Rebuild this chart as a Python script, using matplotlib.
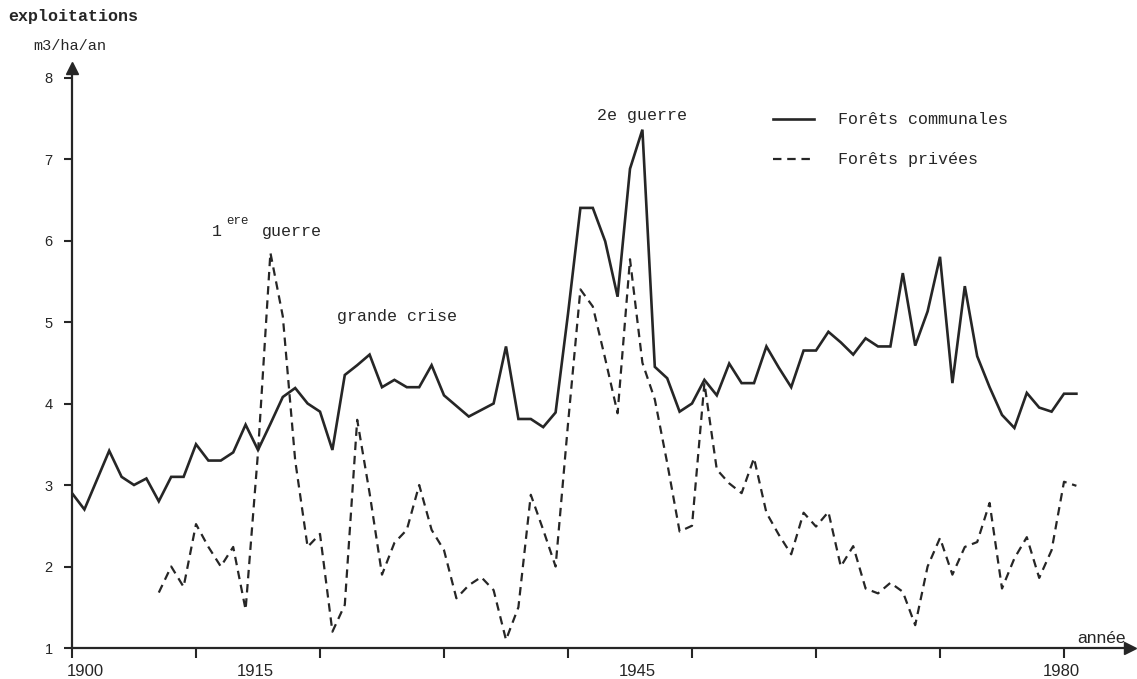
import matplotlib
matplotlib.use("Agg")
import matplotlib.pyplot as plt

# --- data (m3/ha/an) ---
years_comm = list(range(1900, 1982))
communales = [
    2.9, 2.7, 3.06, 3.42, 3.1, 3.0, 3.08, 2.8, 3.1, 3.1,      # 1900-1909
    3.5, 3.3, 3.3, 3.4, 3.74, 3.43, 3.75, 4.08, 4.19, 4.0,    # 1910-1919
    3.9, 3.43, 4.35, 4.47, 4.6, 4.2, 4.29, 4.2, 4.2, 4.47,    # 1920-1929
    4.1, 3.97, 3.84, 3.92, 4.0, 4.7, 3.81, 3.81, 3.71, 3.89,  # 1930-1939
    5.1, 6.4, 6.4, 5.99, 5.31, 6.88, 7.36, 4.45, 4.31, 3.9,   # 1940-1949
    4.0, 4.29, 4.1, 4.49, 4.25, 4.25, 4.7, 4.44, 4.2, 4.65,   # 1950-1959
    4.65, 4.88, 4.75, 4.6, 4.8, 4.7, 4.7, 5.6, 4.71, 5.13,    # 1960-1969
    5.8, 4.25, 5.44, 4.58, 4.2, 3.86, 3.7, 4.13, 3.95, 3.9,   # 1970-1979
    4.12, 4.12,                                               # 1980-1981
]

years_priv = list(range(1907, 1982))
privees = [
    1.68, 2.0, 1.75,                                          # 1907-1909
    2.52, 2.24, 2.0, 2.24, 1.47, 3.4, 5.85, 5.07, 3.3, 2.24,  # 1910-1919
    2.4, 1.2, 1.53, 3.8, 2.9, 1.9, 2.29, 2.45, 3.0, 2.45,     # 1920-1929
    2.2, 1.61, 1.77, 1.87, 1.71, 1.1, 1.5, 2.88, 2.45, 2.0,   # 1930-1939
    3.75, 5.4, 5.19, 4.55, 3.88, 5.77, 4.5, 4.05, 3.27, 2.43, # 1940-1949
    2.5, 4.25, 3.19, 3.02, 2.9, 3.33, 2.66, 2.39, 2.15, 2.66, # 1950-1959
    2.49, 2.67, 2.0, 2.25, 1.73, 1.67, 1.8, 1.69, 1.28, 2.0,  # 1960-1969
    2.35, 1.9, 2.24, 2.3, 2.78, 1.73, 2.1, 2.36, 1.86, 2.2,   # 1970-1979
    3.04, 2.99,                                               # 1980-1981
]

year_labels = [1900, 1915, 1945, 1980]
y_ticks = [1, 2, 3, 4, 5, 6, 7, 8]

W, H = 1137, 679
ink = "#262626"
mono = "Liberation Mono"
sans = "Liberation Sans"

fig = plt.figure(figsize=(W / 100, H / 100), dpi=100)
fig.patch.set_facecolor("white")

# axes placed in pixels: x from 72 to 1130, y from 648 (bottom) to 68 (top)
px_per_year = 12.4
px_per_unit = 81.5
left, right, bottom, top = 72, 1130, 648, 68
ax = fig.add_axes([left / W, (H - bottom) / H, (right - left) / W, (bottom - top) / H])
ax.set_xlim(1900, 1900 + (right - left) / px_per_year)
ax.set_ylim(1, 1 + (bottom - top) / px_per_unit)

ax.plot(years_comm, communales, color=ink, lw=1.9, solid_joinstyle="miter")
ax.plot(years_priv, privees, color=ink, lw=1.6, linestyle=(0, (3.8, 2.6)))

# axes styling: only left/bottom with arrow heads
for s in ["top", "right"]:
    ax.spines[s].set_visible(False)
for s in ["left", "bottom"]:
    ax.spines[s].set_linewidth(1.6)
    ax.spines[s].set_color(ink)
ax.plot(0, 1, marker="^", color=ink, markersize=8, transform=ax.transAxes, clip_on=False)
ax.plot(1, 0, marker=">", color=ink, markersize=8, transform=ax.transAxes, clip_on=False)

ax.set_xticks(range(1900, 1990, 10))
ax.set_xticklabels([])
ax.tick_params(axis="x", direction="out", length=7, width=1.5, color=ink)
ax.set_yticks(y_ticks)
ax.set_yticklabels([str(v) for v in y_ticks], fontsize=10.5, color=ink, family=sans)
ax.tick_params(axis="y", direction="out", length=6, width=1.5, color=ink, pad=8)

# year labels sit a little off the ticks in the original
label_shift = {1900: 1.05, 1915: -0.2, 1945: 0.6, 1980: -0.2}
for yr in year_labels:
    ax.text(yr + label_shift[yr], 1 - 28 / px_per_unit, str(yr),
            ha="center", va="baseline", fontsize=12, color=ink, family=sans)

ax.text(1985.0, 1.06, "année", ha="right", va="baseline", fontsize=12.5,
        color=ink, family=sans)

# annotations (typewriter style)
ax.text(1911.3, 6.06, "1", family=mono, fontsize=12, color=ink, va="baseline")
ax.text(1912.4, 6.2, "ere", family=mono, fontsize=9, color=ink, va="baseline")
ax.text(1915.3, 6.06, "guerre", family=mono, fontsize=12, color=ink, va="baseline")
ax.text(1921.4, 5.01, "grande crise", family=mono, fontsize=12, color=ink, va="baseline")
ax.text(1942.3, 7.48, "2e guerre", family=mono, fontsize=12, color=ink, va="baseline")

# hand-drawn legend
ax.plot([1956.5, 1959.8], [7.49, 7.49], color=ink, lw=1.9)
ax.plot([1956.5, 1959.8], [7.0, 7.0], color=ink, lw=1.6, linestyle=(0, (3.8, 2.6)))
ax.text(1961.8, 7.49, "Forêts communales", family=mono, fontsize=12, color=ink, va="center")
ax.text(1961.8, 7.0, "Forêts privées", family=mono, fontsize=12, color=ink, va="center")

fig.text(8 / W, 1 - 21 / H, "exploitations", family=mono, fontsize=12,
         color=ink, va="baseline", weight="bold")
fig.text(33 / W, 1 - 50 / H, "m3/ha/an", family=mono, fontsize=11,
         color=ink, va="baseline")

fig.savefig("out.png", dpi=100, facecolor="white")
